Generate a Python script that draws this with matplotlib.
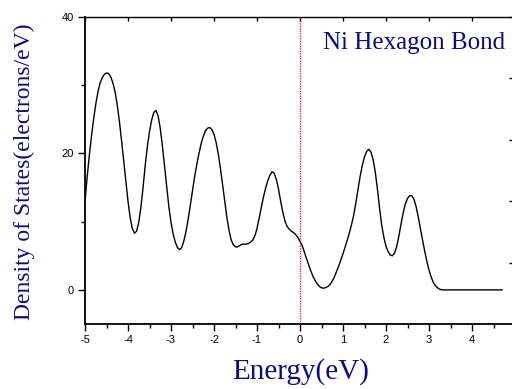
import numpy as np
import matplotlib
matplotlib.use("Agg")
import matplotlib.pyplot as plt
from matplotlib.ticker import MultipleLocator

plt.rcParams["axes.unicode_minus"] = False

# Energy grid (eV), step 0.05 from -5.00 to 4.70
e_start, e_stop, e_step = -5.0, 4.70, 0.05
energy = np.round(np.arange(e_start, e_stop + e_step / 2, e_step), 2)

dos = [
    13.0, 16.5, 19.7, 22.5, 25.0, 27.2, 29.0, 30.3, 31.1, 31.6,
    31.8, 31.7, 31.2, 30.3, 29.0, 27.1, 24.7, 21.9, 18.9, 15.8,
    13.0, 10.6, 9.0, 8.3, 8.6, 9.9, 12.1, 15.0, 18.2, 21.0,
    23.2, 24.9, 26.0, 26.3, 25.5, 23.7, 21.1, 18.1, 15.0, 12.2,
    9.9, 8.2, 7.0, 6.2, 5.9, 6.2, 7.2, 8.6, 10.4, 12.5,
    14.6, 16.6, 18.4, 20.0, 21.4, 22.5, 23.3, 23.7, 23.8, 23.5,
    22.8, 21.6, 19.9, 17.8, 15.4, 12.9, 10.6, 8.7, 7.3, 6.6,
    6.3, 6.3, 6.5, 6.7, 6.7, 6.7, 6.8, 7.0, 7.3, 7.9,
    9.0, 10.5, 12.1, 13.6, 14.9, 16.0, 16.8, 17.3, 17.1, 16.2,
    14.8, 13.0, 11.4, 10.1, 9.3, 8.9, 8.6, 8.4, 8.1, 7.7,
    7.1, 6.5, 5.6, 4.6, 3.7, 2.8, 2.0, 1.4, 0.9, 0.5,
    0.3, 0.25, 0.35, 0.5, 0.8, 1.3, 1.9, 2.7, 3.5, 4.4,
    5.3, 6.3, 7.3, 8.4, 9.6, 11.0, 12.8, 14.8, 16.7, 18.3,
    19.5, 20.3, 20.6, 20.2, 19.1, 17.3, 14.8, 12.0, 9.5, 7.7,
    6.4, 5.6, 5.1, 5.0, 5.4, 6.4, 7.9, 9.7, 11.3, 12.6,
    13.4, 13.8, 13.8, 13.3, 12.2, 10.7, 9.0, 7.3, 5.7, 4.2,
    2.9, 1.9, 1.1, 0.6, 0.3, 0.1, 0.0, 0.0, 0.0, 0.0,
    0.0, 0.0, 0.0, 0.0, 0.0, 0.0, 0.0, 0.0, 0.0, 0.0,
    0.0, 0.0, 0.0, 0.0, 0.0, 0.0, 0.0, 0.0, 0.0, 0.0,
    0.0, 0.0, 0.0, 0.0, 0.0,
]

fermi_level = 0.0
x_ticks = [-5, -4, -3, -2, -1, 0, 1, 2, 3, 4, 5]
x_tick_labels = ["-5", "-4", "-3", "-2", "-1", "0", "1", "2", "3", "4", ""]
y_ticks = [0, 20, 40]
title_text = "Ni Hexagon Bond"
xlabel_text = "Energy(eV)"
ylabel_text = "Density of States(electrons/eV)"

navy = "#0a0a8c"

fig = plt.figure(figsize=(5.12, 3.89), dpi=100)
ax = fig.add_axes([85 / 512, 65 / 389, 430 / 512, 307 / 389])

n = min(len(energy), len(dos))
ax.plot(energy[:n], dos[:n], color="black", lw=1.0)
ax.axvline(fermi_level, color="red", lw=0.9, ls=(0, (1, 1)))

ax.set_xlim(-5, 5)
ax.set_ylim(-5, 40)
ax.set_xticks(x_ticks)
ax.set_xticklabels(x_tick_labels)
ax.set_yticks(y_ticks)
ax.xaxis.set_minor_locator(MultipleLocator(0.5))
ax.yaxis.set_minor_locator(MultipleLocator(10))

sans = "Liberation Sans"
for lab in ax.get_xticklabels() + ax.get_yticklabels():
    lab.set_fontfamily(sans)
    lab.set_fontsize(8)

ax.tick_params(axis="both", which="major", direction="out", length=5, width=1.0, pad=3)
ax.tick_params(axis="both", which="minor", direction="out", length=3, width=1.0)
ax.tick_params(right=False, top=False, which="both")

for side in ("left", "bottom"):
    ax.spines[side].set_linewidth(1.3)
ax.spines["top"].set_linewidth(1.0)
ax.spines["right"].set_visible(False)

# top axis ticks (inward)
axt = ax.secondary_xaxis("top")
axt.set_xticks(x_ticks)
axt.tick_params(direction="in", length=3, width=1.0, labeltop=False)
axt.spines["top"].set_visible(False)

# right axis ticks (inward)
axr = ax.twinx()
axr.set_ylim(-10, 40)
axr.set_yticks([0, 10, 20, 30, 40])
axr.tick_params(direction="in", length=4, width=1.0, labelright=False)
for s in axr.spines.values():
    s.set_visible(False)

ax.text(0.977, 0.915, title_text, transform=ax.transAxes, ha="right", va="center",
        fontfamily="Liberation Serif", fontsize=18, color=navy)

fig.text(301 / 512, 1 - 372 / 389, xlabel_text, ha="center", va="center",
         fontfamily="Liberation Serif", fontsize=21, color=navy)
fig.text(24 / 512, 1 - 172 / 389, ylabel_text, ha="center", va="center", rotation=90,
         fontfamily="Liberation Serif", fontsize=17, color=navy)

fig.savefig("out.png", dpi=100)
